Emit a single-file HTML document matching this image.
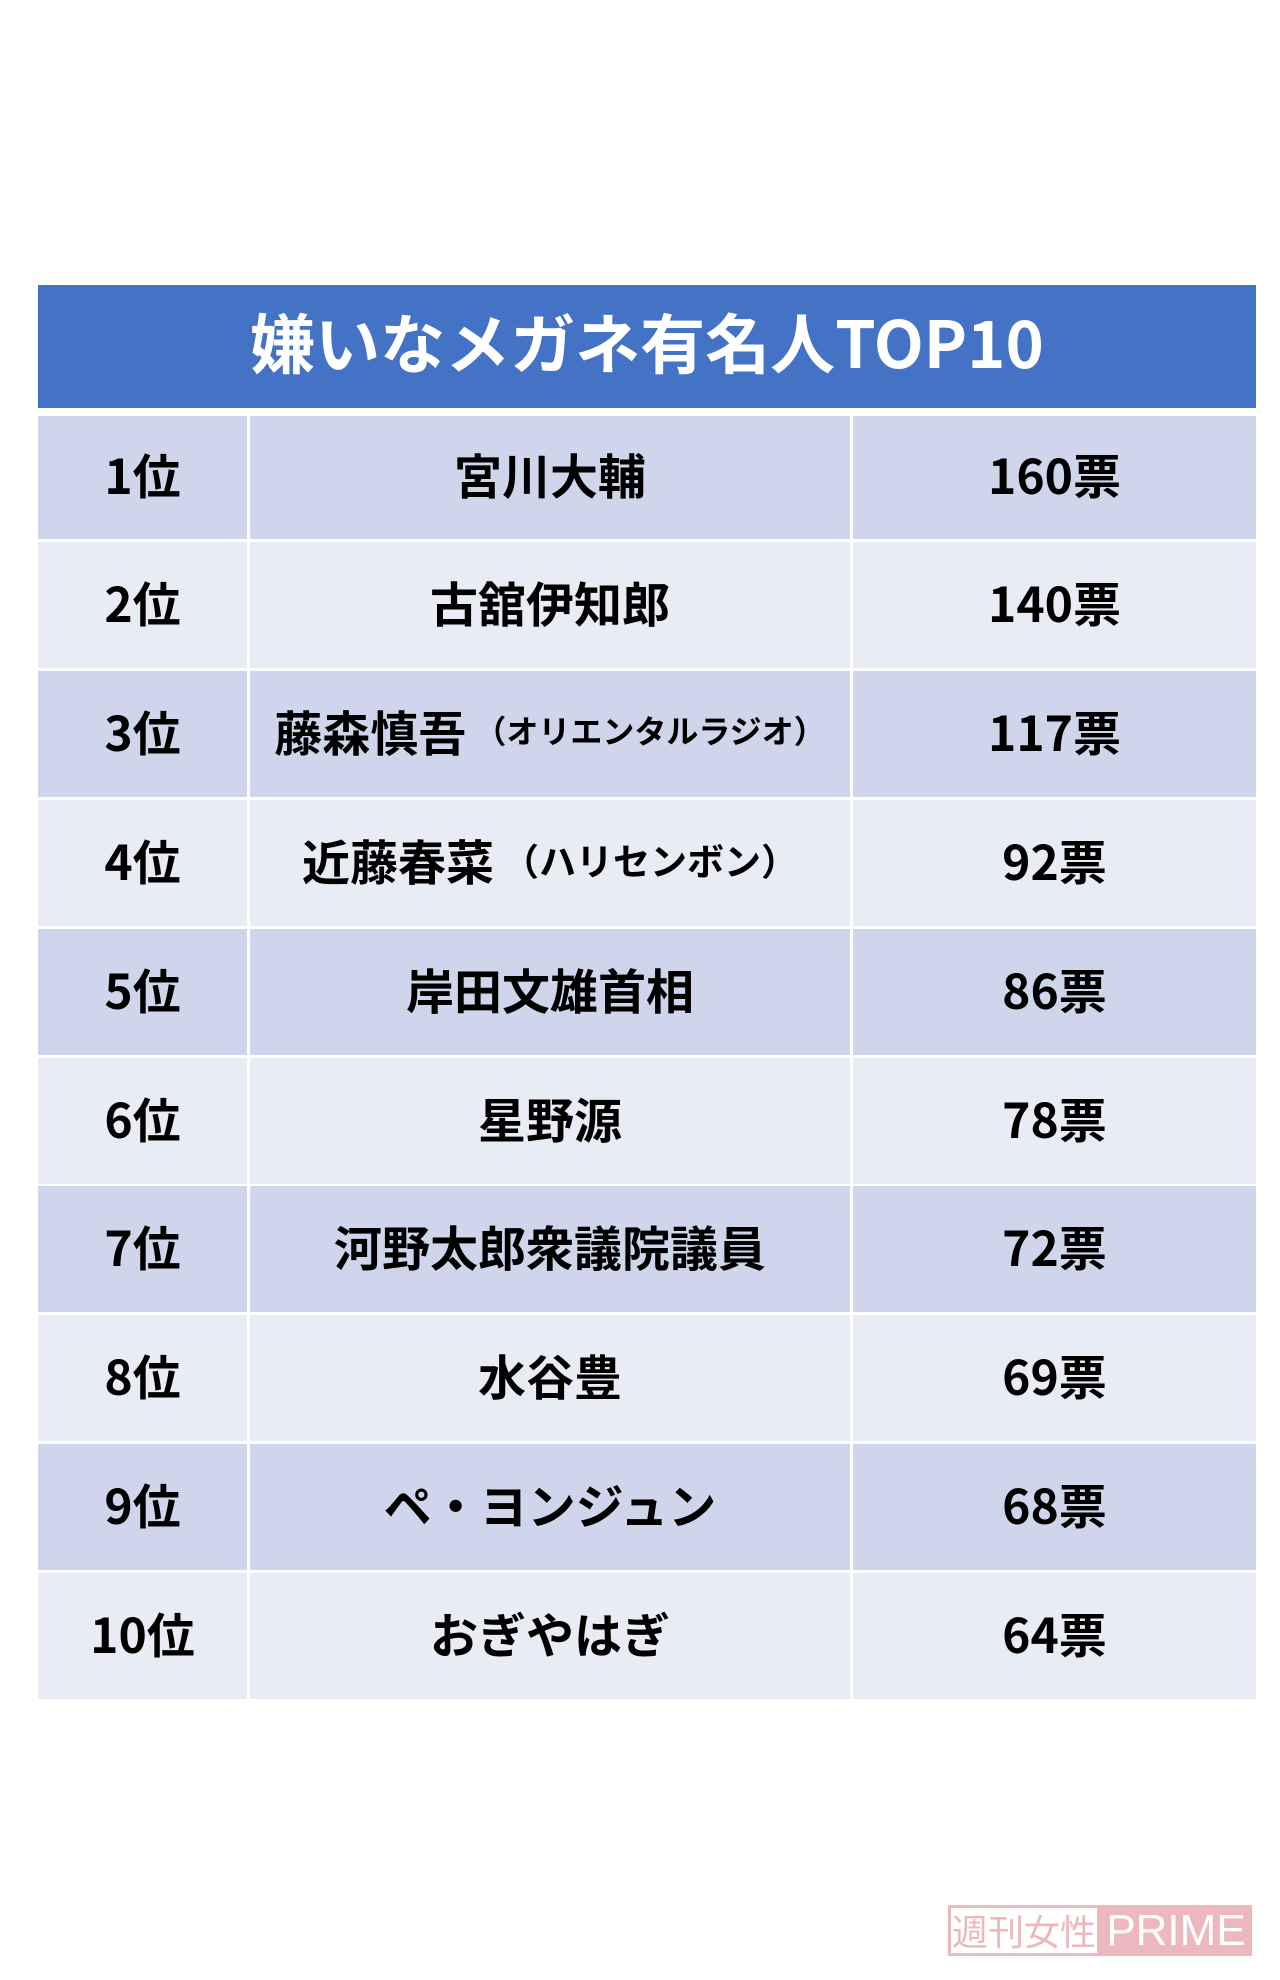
<!DOCTYPE html>
<html>
<head>
<meta charset="utf-8">
<style>
  html, body { margin:0; padding:0; background:#ffffff; }
  body { width:1280px; height:1980px; position:relative; overflow:hidden;
    font-family:"Liberation Sans","Noto Sans CJK JP",sans-serif; }
  .hdr { position:absolute; left:38px; top:285px; width:1218px; height:123px; background:#4472C4;
    color:#fff; font-weight:700; font-size:65px; display:flex; align-items:center; justify-content:center;
    font-family:"Noto Sans CJK JP",sans-serif; padding-bottom:14px; box-sizing:border-box; }
  .c { position:absolute; display:flex; align-items:center; justify-content:center;
    font-weight:700; font-size:48px; color:#000; white-space:nowrap; box-sizing:border-box; padding-bottom:9px;
    font-family:"Noto Sans CJK JP",sans-serif; }
  .d { background:#CFD5EA; }
  .l { background:#E9EBF5; }
  .c1 { left:38px; width:209px; }
  .c2 { left:250px; width:600px; }
  .c3 { left:853px; width:403px; }
  .s3 { font-size:32px; margin-left:8px; }
  .s4 { font-size:37px; margin-left:8px; }
  .wm { position:absolute; left:948px; top:1905px; width:304px; height:51px; }
  .wm .a { position:absolute; left:0; top:0; width:152px; height:51px; box-sizing:border-box;
    border:3px solid #EDB8BD; background:#fff; color:#EDB8BD; font-size:36px; line-height:45px;
    text-align:center; font-family:"Noto Sans CJK JP",sans-serif; font-weight:400; }
  .wm .b { position:absolute; left:152px; top:0; width:152px; height:51px; background:#EDB8BD;
    color:#fff; font-size:44px; line-height:51px; text-align:center; font-family:"Liberation Sans",sans-serif; }
</style>
</head>
<body>
<div class="hdr">嫌いなメガネ有名人TOP10</div>

<div class="c c1 d" style="top:416px;height:123px">1位</div>
<div class="c c2 d" style="top:416px;height:123px">宮川大輔</div>
<div class="c c3 d" style="top:416px;height:123px">160票</div>

<div class="c c1 l" style="top:542px;height:126px">2位</div>
<div class="c c2 l" style="top:542px;height:126px">古舘伊知郎</div>
<div class="c c3 l" style="top:542px;height:126px">140票</div>

<div class="c c1 d" style="top:671px;height:126px">3位</div>
<div class="c c2 d" style="top:671px;height:126px">藤森慎吾<span class="s3">（オリエンタルラジオ）</span></div>
<div class="c c3 d" style="top:671px;height:126px">117票</div>

<div class="c c1 l" style="top:800px;height:126px">4位</div>
<div class="c c2 l" style="top:800px;height:126px">近藤春菜<span class="s4">（ハリセンボン）</span></div>
<div class="c c3 l" style="top:800px;height:126px">92票</div>

<div class="c c1 d" style="top:929px;height:126px">5位</div>
<div class="c c2 d" style="top:929px;height:126px">岸田文雄首相</div>
<div class="c c3 d" style="top:929px;height:126px">86票</div>

<div class="c c1 l" style="top:1058px;height:126px">6位</div>
<div class="c c2 l" style="top:1058px;height:126px">星野源</div>
<div class="c c3 l" style="top:1058px;height:126px">78票</div>

<div class="c c1 d" style="top:1186px;height:126px">7位</div>
<div class="c c2 d" style="top:1186px;height:126px">河野太郎衆議院議員</div>
<div class="c c3 d" style="top:1186px;height:126px">72票</div>

<div class="c c1 l" style="top:1315px;height:126px">8位</div>
<div class="c c2 l" style="top:1315px;height:126px">水谷豊</div>
<div class="c c3 l" style="top:1315px;height:126px">69票</div>

<div class="c c1 d" style="top:1444px;height:126px">9位</div>
<div class="c c2 d" style="top:1444px;height:126px">ペ・ヨンジュン</div>
<div class="c c3 d" style="top:1444px;height:126px">68票</div>

<div class="c c1 l" style="top:1573px;height:126px">10位</div>
<div class="c c2 l" style="top:1573px;height:126px">おぎやはぎ</div>
<div class="c c3 l" style="top:1573px;height:126px">64票</div>

<div class="wm"><div class="a">週刊女性</div><div class="b">PRIME</div></div>
</body>
</html>
